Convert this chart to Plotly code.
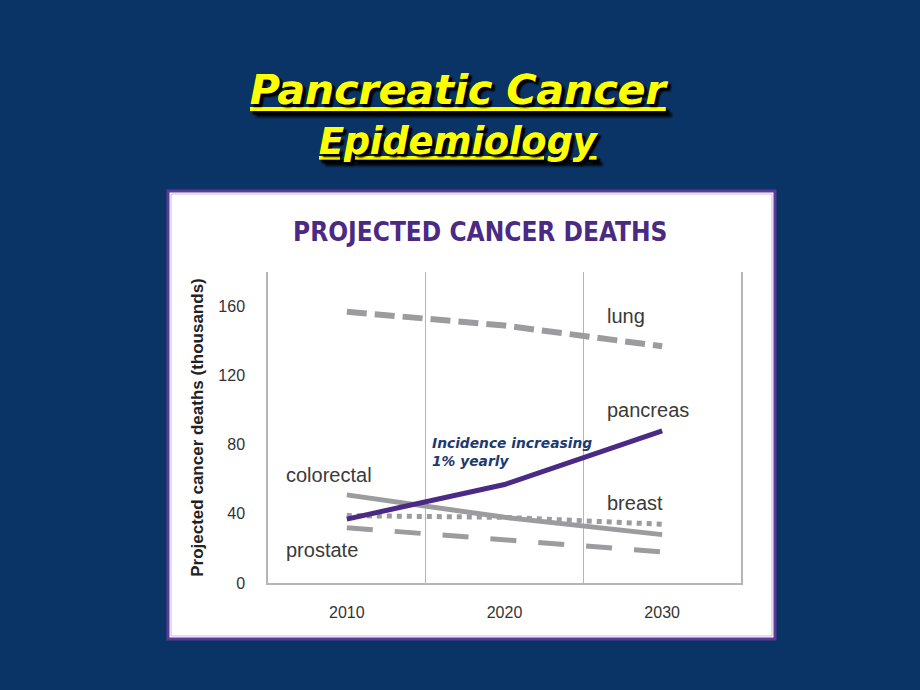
import plotly.graph_objects as go

years = [2010, 2020, 2030]
lung = [157, 149, 137]
pancreas = [37, 57, 88]
colorectal = [51, 38, 28]
breast = [39, 38, 34]
prostate = [32, 25, 18]
ytick_vals = [0, 40, 80, 120, 160]
xtick_labels = ["2010", "2020", "2030"]

NAVY = "#0b3466"
GRAY = "#9c9c9f"
PURPLE = "#4b2a85"

# plot area in pixels
L, R, T, B = 268, 741, 272, 583
W, H = 920, 690
pw, ph = R - L, B - T

def px(x):
    return (x - L) / pw

def py(y):
    return (B - y) / ph

fig = go.Figure()
fig.add_trace(go.Scatter(x=years, y=lung, mode="lines",
                         line=dict(color=GRAY, width=6, dash="20px,8px")))
fig.add_trace(go.Scatter(x=years, y=colorectal, mode="lines",
                         line=dict(color=GRAY, width=5)))
fig.add_trace(go.Scatter(x=years, y=breast, mode="lines",
                         line=dict(color=GRAY, width=5, dash="5px,5px")))
fig.add_trace(go.Scatter(x=years, y=prostate, mode="lines",
                         line=dict(color=GRAY, width=5, dash="26px,22px")))
fig.add_trace(go.Scatter(x=years, y=pancreas, mode="lines",
                         line=dict(color=PURPLE, width=5)))

# white panel with purple border
fig.add_shape(type="rect", xref="paper", yref="paper",
              x0=px(168), x1=px(775), y0=py(639), y1=py(191),
              fillcolor="white", line=dict(color="#5a3a92", width=3), layer="below")
fig.add_shape(type="rect", xref="paper", yref="paper",
              x0=px(171), x1=px(772), y0=py(636), y1=py(194),
              fillcolor="rgba(0,0,0,0)", line=dict(color="#c9b8e6", width=1), layer="below")

ann = []
lab_font = dict(family="Liberation Sans, Arial, sans-serif", size=20, color="#3a3a3a")
for text, x, y in [("lung", 605, 316), ("pancreas", 605, 410), ("breast", 605, 503),
                   ("colorectal", 284, 475), ("prostate", 284, 550)]:
    ann.append(dict(text=text, x=px(x), y=py(y), xref="paper", yref="paper",
                    xanchor="left", yanchor="middle", showarrow=False, font=lab_font))
ann.append(dict(text="<b><i>Incidence increasing<br>1% yearly</i></b>", x=px(430), y=py(452),
                xref="paper", yref="paper", xanchor="left", yanchor="middle", align="left",
                showarrow=False,
                font=dict(family="DejaVu Sans, Verdana, sans-serif", size=13.8, color="#1b3a6f")))
ann.append(dict(text="<b>PROJECTED CANCER DEATHS</b>", x=px(480), y=py(232),
                xref="paper", yref="paper", xanchor="center", yanchor="middle",
                showarrow=False,
                font=dict(family="Liberation Sans Narrow, DejaVu Sans Condensed, sans-serif",
                          size=26, color="#4a2a82")))
title_font = dict(family="DejaVu Sans, Verdana, sans-serif", color="#ffff00",
                  shadow="3px 3px 2px #000000")
ann.append(dict(text="<b><i><u>Pancreatic Cancer</u></i></b>", x=px(459), y=py(90),
                xref="paper", yref="paper", xanchor="center", yanchor="middle",
                showarrow=False, font=dict(size=41, **title_font)))
ann.append(dict(text="<b><i><u>Epidemiology</u></i></b>", x=px(459), y=py(141),
                xref="paper", yref="paper", xanchor="center", yanchor="middle",
                showarrow=False, font=dict(size=36.5, **title_font)))

tick_font = dict(family="Liberation Sans, Arial, sans-serif", size=16, color="#333")
fig.update_layout(
    width=W, height=H,
    margin=dict(l=L, r=W - R, t=T, b=H - B),
    paper_bgcolor=NAVY, plot_bgcolor="white",
    showlegend=False,
    annotations=ann,
    xaxis=dict(range=[2005, 2035], tickvals=years, ticktext=xtick_labels,
               showgrid=False, zeroline=False, showline=True, linecolor="#b5b5b5", linewidth=1.5,
               ticks="", ticklabelstandoff=14, tickfont=tick_font,
               minor=dict(tickvals=[2015, 2025], showgrid=True, gridcolor="#b5b5b5", gridwidth=1.2)),
    yaxis=dict(range=[0, 180], tickvals=ytick_vals, showgrid=False, zeroline=False,
               showline=True, mirror=True, linecolor="#b5b5b5", linewidth=1.5,
               ticks="", ticklabelstandoff=18, tickfont=tick_font,
               title=dict(text="Projected cancer deaths (thousands)", standoff=10,
                          font=dict(family="Liberation Sans, Arial, sans-serif", size=17,
                                    color="#222", weight="bold"))),
)

fig.write_html("out.html")
